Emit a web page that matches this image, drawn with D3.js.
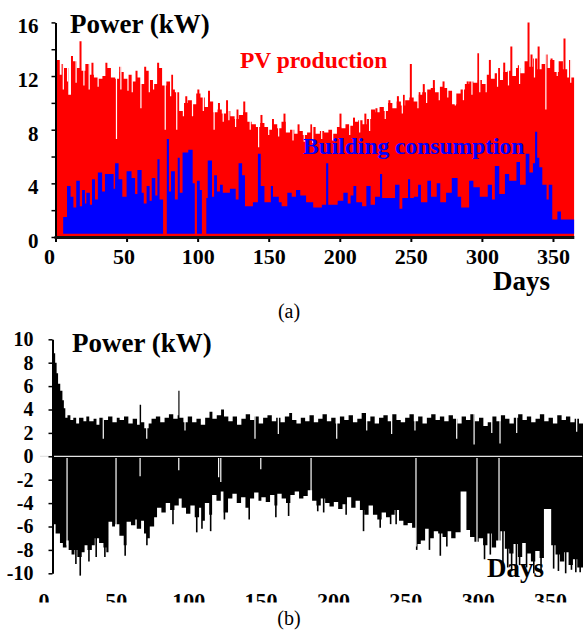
<!DOCTYPE html>
<html lang="en">
<head>
<meta charset="UTF-8">
<title>PV production, building consumption and net power</title>
<script src="https://d3js.org/d3.v7.min.js"></script>
<style>
  body { margin: 0; background: #fff; }
  svg { display: block; }
  svg text { font-family: "Liberation Serif", "Times New Roman", serif; }
</style>
</head>
<body>
<svg id="chart" width="587" height="631"></svg>
<script>
// ---------- (a) PV production / building consumption, kW ----------
// PV daily peak level, read every 3 days starting at day 0
const pvStep = 3;
const pvLevel = [
  13.2, 12.1, 12.6, 10.6, 13.1, 12.6, 12.4, 12.9, 12.1, 11.9,
  11.8, 12.0, 12.6, 11.9, 11.8, 12.3, 11.8, 12.1, 11.6, 11.9,
  11.4, 12.4, 11.7, 11.4, 12.6, 11.3, 11.6, 11.0, 10.8, 9.4,
  10.0, 10.2, 9.9, 10.7, 10.4, 9.7, 10.1, 9.3, 9.5, 9.2,
  9.4, 9.0, 8.8, 9.1, 9.3, 8.6, 8.4, 8.2, 8.5, 8.2,
  8.0, 8.4, 8.1, 8.6, 7.8, 8.0, 7.7, 7.9, 7.6, 7.8,
  8.2, 7.7, 7.9, 7.8, 8.0, 7.7, 8.2, 8.1, 8.4, 8.3,
  8.6, 8.7, 8.4, 8.8, 9.5, 9.3, 9.7, 9.4, 10.0, 9.6,
  10.1, 9.8, 10.2, 10.4, 10.1, 10.6, 10.8, 11.0, 11.1, 10.8,
  11.2, 11.1, 10.9, 9.9, 10.7, 11.0, 11.4, 11.6, 11.5, 11.7,
  11.4, 12.1, 11.8, 12.2, 11.7, 12.3, 12.4, 12.0, 12.6, 12.2,
  13.1, 12.7, 13.3, 12.5, 12.9, 12.6, 13.2, 12.3, 13.1, 12.5,
  11.9
];
// single sunny days standing above the level [day, kW]
const pvPeaks = [
  [0.3, 13.6], [5, 12.9], [11.6, 13.5], [17.6, 14.6], [26, 13.0],
  [35.8, 13.0], [45.5, 12.7], [57, 12.4], [63.1, 12.7], [72.2, 13.0],
  [82, 12.1], [92, 10.5], [100.5, 11.0], [108, 10.9], [115, 10.0],
  [120.7, 10.2], [128, 9.5], [132.8, 10.1], [144.9, 9.1], [153, 8.8],
  [161.1, 9.2], [171, 8.4], [180, 8.4], [200.5, 9.2], [210, 8.9],
  [218, 9.2], [225.8, 9.6], [234.9, 10.2], [240.9, 10.5], [245, 10.6],
  [250, 12.9], [256, 10.8], [259.1, 11.4], [266.2, 11.7], [273, 11.6],
  [290, 11.6], [297.5, 13.7], [305.6, 13.2], [312, 12.6], [315.7, 13.0],
  [320.7, 14.2], [326, 12.8], [332.8, 16.0], [334.9, 13.6], [339.9, 14.2],
  [345.5, 13.6], [349, 13.3], [358.1, 14.8], [362, 13.2]
];
// cloudy days dropping below the level [day, kW]
const pvDips = [
  [5.5, 11.0], [8.5, 11.6], [14.5, 11.5], [20, 11.3], [23.7, 11.0],
  [30, 11.2], [42.9, 7.3], [46, 11.0], [51, 10.9], [54, 10.8],
  [60.1, 9.6], [66, 10.8], [69, 11.0], [77.2, 8.0], [81, 10.5],
  [85.3, 8.0], [90, 9.0], [96.4, 9.0], [104, 9.4], [111.6, 8.0],
  [118, 8.6], [122, 8.7], [126.7, 8.2], [137, 8.0], [142.9, 6.7],
  [150, 7.6], [157, 7.5], [167.1, 7.2], [175, 7.1], [181, 7.0],
  [187.3, 7.3], [195, 7.2], [207, 7.6], [214, 7.8], [221, 7.9],
  [232, 8.8], [244, 9.2], [255, 9.6], [261.1, 10.0], [270, 10.2],
  [276, 10.4], [281.3, 9.8], [287, 10.2], [293, 10.6], [298.5, 10.8],
  [303, 10.8], [311, 11.2], [318.7, 11.3], [326.5, 11.4], [337, 11.9],
  [345, 9.5], [353, 12.0], [362.5, 11.5]
];
// building consumption peak, step values starting at each day
const consDays = [
  0, 5.4, 8.1, 10.6, 12.6, 14.6, 17.1, 18.7, 20.7, 21.7,
  24.2, 25.7, 27.8, 29.8, 32.8, 34.8, 40.9, 41.9, 44.4, 47,
  50, 53.5, 56, 57.6, 60.6, 62.1, 64.1, 66.2, 67.7, 70.2,
  71.7, 73.2, 75.7, 78.3, 79.8, 81.3, 84, 86, 87.4, 89.4,
  93.4, 96.5, 98, 99.5, 101.5, 103, 106.1, 107.1, 110.1, 111.6,
  113.6, 115.7, 117.7, 122.7, 126.8, 128.8, 131.3, 133.3, 138.9, 142.4,
  144.4, 147, 151.5, 153, 157.1, 159.1, 163.1, 166.2, 169.2, 172.2,
  176.3, 181.3, 187.4, 190.4, 191.9, 198.5, 202.5, 205.6, 207.6, 209.6,
  211.6, 215.7, 218.7, 221.7, 224.8, 228.3, 229.8, 238.9, 242, 244,
  248, 249.5, 252.1, 255.1, 257.1, 261.6, 264.2, 268.2, 270.7, 274.8,
  278.8, 282.9, 285.4, 291, 294, 298.5, 304.1, 307.1, 309.1, 312.2,
  316.2, 319.2, 324.3, 326.8, 330.8, 333.4, 335.9, 337.4, 338.9, 340.4,
  342.5, 345.5, 347, 349.5, 353.1, 355.6
];
const consKW = [
  0, 1.5, 3.8, 3.0, 2.2, 4.2, 2.3, 3.5, 2.5, 3.3,
  2.4, 4.3, 2.8, 4.8, 3.4, 4.7, 3.6, 5.5, 4.3, 3.0,
  4.9, 4.4, 3.2, 5.0, 3.3, 2.5, 3.8, 2.7, 4.4, 3.1,
  5.8, 2.8, 0, 7.3, 3.4, 4.9, 2.8, 5.9, 3.3, 6.3,
  6.5, 4.0, 0, 4.2, 3.5, 0, 2.9, 5.7, 3.0, 4.6,
  3.4, 3.9, 3.3, 3.6, 2.8, 5.5, 4.6, 2.3, 2.6, 6.2,
  3.8, 2.6, 3.8, 3.0, 2.6, 2.3, 3.3, 3.0, 3.5, 3.1,
  2.6, 2.2, 2.4, 5.5, 2.4, 2.7, 3.3, 2.5, 3.1, 3.8,
  2.6, 2.3, 3.8, 2.4, 3.0, 4.7, 2.9, 3.9, 2.1, 2.9,
  4.3, 2.9, 3.0, 3.9, 2.6, 4.2, 3.0, 4.0, 2.6, 3.3,
  4.4, 3.0, 2.2, 4.2, 3.7, 3.0, 3.9, 2.8, 5.3, 3.2,
  4.7, 4.2, 5.6, 3.9, 6.2, 4.8, 5.5, 7.85, 5.9, 5.2,
  3.9, 2.8, 3.9, 1.3, 1.9, 1.3
];
const consNight = 0.25;

// ---------- (b) net power, kW ----------
const netHighDays = [
  0, 1.5, 2.5, 3.5, 5, 6.5, 7.5, 8.5, 10, 12,
  14, 16, 18, 21, 23, 25, 28, 30, 32, 35,
  38, 41, 44, 46, 49, 52, 55, 58, 59.8, 60.8,
  63, 66, 68, 71, 74, 77, 80, 83, 86, 86.5,
  87.3, 90, 93, 96, 99, 102, 105, 108, 110, 113,
  116, 118, 121, 124, 127, 130, 133, 136, 139, 142,
  145, 148, 151, 154, 157, 160, 163, 165, 168, 171,
  174, 177, 180, 183, 186, 189, 192, 195, 198, 201,
  204, 207, 210, 213, 216, 219, 222, 225, 228, 231,
  234, 237, 240, 243, 246, 249, 252, 255, 258, 261,
  264, 267, 270, 273, 276, 279, 282, 285, 288, 291,
  294, 297, 300, 303, 306, 309, 312, 315, 318, 321,
  324, 327, 330, 333, 336, 339, 342, 345, 348, 351,
  354, 357, 360, 363
];
const netHighKW = [
  8.8, 8.0, 7.1, 6.2, 5.6, 4.8, 4.1, 3.3, 3.5, 3.1,
  3.3, 2.8, 3.3, 3.0, 3.4, 3.0, 3.2, 2.7, 3.3, 3.1,
  3.4, 2.9, 3.3, 3.1, 3.4, 2.8, 3.2, 2.7, 4.4, 2.9,
  2.4, 2.8, 3.2, 3.4, 2.9, 3.3, 3.6, 3.2, 3.5, 5.6,
  3.3, 2.9, 3.4, 2.9, 3.2, 2.7, 3.3, 3.8, 3.2, 3.5,
  4.0, 3.4, 3.0, 3.4, 2.7, 3.2, 3.6, 3.1, 3.4, 2.8,
  3.3, 3.5, 3.0, 3.3, 2.9, 3.4, 3.7, 3.1, 2.8, 3.3,
  3.0, 3.5, 2.9, 3.2, 3.6, 3.0, 3.3, 2.8, 3.4, 3.1,
  3.5, 2.9, 3.2, 3.7, 3.0, 3.4, 2.8, 3.3, 3.5, 3.0,
  3.6, 3.1, 2.9, 3.3, 3.6, 3.0, 3.4, 2.8, 3.3, 3.6,
  3.1, 3.4, 3.0, 3.5, 3.2, 2.8, 3.4, 3.1, 3.6, 3.0,
  3.3, 2.6, 2.9, 3.4, 3.0, 3.5, 3.2, 2.8, 3.3, 3.6,
  3.1, 3.4, 2.9, 3.2, 3.6, 3.0, 3.3, 2.8, 3.5, 3.1,
  3.4, 2.9, 3.2, 2.8
];
const netLowDays = [
  0, 1.8, 4.8, 6.8, 9.3, 10.8, 12.8, 14.8, 16.8, 19.8,
  21.8, 23.8, 26.8, 28.8, 31.8, 34.8, 36.8, 38.3, 40.8, 42.8,
  45.8, 48.8, 50.8, 53.8, 56.8, 57.8, 60.8, 62.8, 64.8, 66.8,
  69.8, 71.8, 74.8, 77.8, 80.8, 83.8, 86.8, 88.8, 91.8, 94.8,
  97.8, 100.8, 102.8, 104.8, 107.8, 109.8, 112.8, 115.8, 117.8, 120.8,
  123.8, 126.8, 129.8, 132.8, 135.8, 138.8, 141.8, 143.8, 146.8, 149.8,
  152.8, 154.8, 157.8, 160.8, 163.8, 166.8, 169.8, 172.8, 175.8, 178.8,
  181.8, 184.8, 187.8, 190.8, 193.8, 196.8, 199.8, 202.8, 205.8, 208.8,
  211.8, 214.8, 217.8, 220.8, 223.8, 226.8, 229.8, 232.8, 235.8, 238.8,
  241.8, 244.8, 247.8, 250.8, 253.8, 256.8, 259.8, 262.8, 265.8, 268.8,
  271.8, 274.8, 277.8, 281.3, 285.3, 287.8, 290.8, 293.8, 296.8, 299.8,
  302.8, 305.8, 308.8, 311.8, 314.8, 317.8, 320.8, 323.8, 326.8, 329.8,
  332.8, 335.8, 338.8, 343.8, 346.8, 349.8, 352.8, 355.8, 358.8, 361.8
];
const netLowKW = [
  -5.8, -6.6, -7.4, -7.8, -7.2, -8.0, -8.4, -8.0, -8.6, -8.2,
  -7.6, -8.0, -7.6, -7.0, -7.4, -7.8, -8.2, -5.6, -6.0, -5.8,
  -6.8, -7.6, -5.6, -5.9, -5.4, -6.2, -5.5, -6.6, -7.0, -6.0,
  -5.2, -4.4, -4.8, -4.0, -4.6, -4.2, -3.6, -4.4, -4.9, -4.2,
  -5.2, -4.4, -5.5, -4.0, -5.0, -3.3, -3.8, -3.0, -4.8, -3.6,
  -3.2, -4.0, -3.5, -4.4, -3.6, -3.1, -3.8, -3.5, -3.9, -3.3,
  -4.2, -3.2, -3.6, -4.0, -3.3, -3.0, -3.6, -3.4, -2.9, -3.8,
  -4.2, -3.6, -4.0, -4.3, -3.9, -4.5, -4.1, -3.5, -4.4, -3.8,
  -4.6, -5.0, -4.2, -5.0, -5.4, -4.8, -5.2, -5.0, -4.6, -5.5,
  -5.9, -5.7, -6.1, -7.5, -7.2, -6.2, -7.0, -6.4, -6.6, -6.9,
  -6.4, -7.0, -6.5, -3.0, -6.3, -6.9, -7.3, -7.0, -7.6, -6.6,
  -7.8, -7.2, -6.4, -7.9, -8.3, -7.5, -8.6, -7.4, -8.3, -9.0,
  -8.1, -8.7, -4.5, -7.6, -8.4, -9.0, -8.2, -9.3, -8.8, -9.5
];
// deeper single days [day, kW]
const netSpikes = [
  [15.8, -9.2], [18.8, -10.2], [24.8, -9.0], [29.8, -8.6], [35.8, -8.6],
  [49.8, -8.5], [64.8, -7.6], [82.8, -5.8], [99.2, -6.5], [102.8, -6.2],
  [108.8, -6.4], [118.3, -5.4], [135.4, -5.4], [153.8, -5.2], [162.6, -5.1],
  [182.7, -4.7], [186.8, -4.8], [202.3, -5.0], [214.3, -6.4], [225.8, -6.1],
  [233, -5.8], [236.8, -5.8], [251, -8.0], [259.8, -8.0], [267.3, -8.5],
  [271.8, -7.7], [297.8, -8.8], [301.8, -8.4], [310.5, -9.2], [313.8, -9.5],
  [316.5, -9.8], [319.8, -9.7], [322, -9.3], [326.8, -9.5], [331.8, -10.0],
  [336.8, -10.0], [345.5, -9.6], [348.8, -9.8], [353.8, -10.0], [357.8, -9.7],
  [360.8, -9.9], [363.8, -9.9]
];
// days with little PV: negative part missing from 0 down to kW
const netGapsNeg = [
  [9.7, -7.6], [43.5, -6.9], [60.1, -1.7], [86.8, -1.2], [114.3, -1.8],
  [115.8, -2.2], [143.4, -1.1], [178.1, -3.0], [250.5, -7.7], [292.6, -7.4],
  [307.8, -7.5]
];
// days with low night load: positive part only up to kW
const netGapsPos = [
  [34.7, 1.5], [64.7, 1.5], [91.1, 2.2], [139.4, 1.5], [155.5, 1.9],
  [195.8, 1.5], [216.5, 2.2], [233.7, 1.9], [249.8, 2.2], [278.6, 1.5],
  [290.6, 1.0], [302.8, 2.0], [308.5, 1.1], [320, 2.0], [361.4, 2.1]
];

const dayTicks = [0, 50, 100, 150, 200, 250, 300, 350];
const topTicks = [0, 2, 4, 6, 8, 10, 12, 14, 16];
const topLabelled = [0, 4, 8, 12, 16];
const bottomTicks = [-10, -8, -6, -4, -2, 0, 2, 4, 6, 8, 10];

const serif = '"Liberation Serif", "Times New Roman", serif';
const svg = d3.select("#chart");

function steps(days, vals, end) {
  const pts = days.map((d, i) => ({d: d, v: vals[i]}));
  pts.push({d: end, v: vals[vals.length - 1]});
  return pts;
}

// ================= panel (a) =================
const xTop = d3.scaleLinear().domain([0, 365]).range([55.5, 574.3]);
const yTop = d3.scaleLinear().domain([0, 16]).range([237, 22.4]);

svg.append("clipPath").attr("id", "clipTop")
  .append("rect").attr("x", xTop(0)).attr("y", 0)
  .attr("width", xTop(365) - xTop(0)).attr("height", yTop(0));

const gTop = svg.append("g").attr("clip-path", "url(#clipTop)");

const pvData = steps(pvLevel.map((v, i) => i * pvStep), pvLevel, 365);
gTop.append("path")
  .datum(pvData)
  .attr("fill", "#ff0000")
  .attr("d", d3.area().curve(d3.curveStepAfter)
    .x(d => xTop(d.d)).y0(yTop(0)).y1(d => yTop(d.v)));

gTop.selectAll(".pvPeak").data(pvPeaks).join("line")
  .attr("x1", d => xTop(d[0])).attr("x2", d => xTop(d[0]))
  .attr("y1", yTop(0)).attr("y2", d => yTop(d[1]))
  .attr("stroke", "#ff0000").attr("stroke-width", 2);

gTop.selectAll(".pvDip").data(pvDips).join("line")
  .attr("x1", d => xTop(d[0])).attr("x2", d => xTop(d[0]))
  .attr("y1", d => yTop(d[1])).attr("y2", yTop(16.5))
  .attr("stroke", "#fff").attr("stroke-width", 1.2);

const consData = steps(consDays, consKW, 365);
gTop.append("path")
  .datum(consData)
  .attr("fill", "#0000ff")
  .attr("d", d3.area().curve(d3.curveStepAfter)
    .x(d => xTop(d.d))
    .y0(d => d.v > 0 ? yTop(consNight) : yTop(0))
    .y1(d => d.v > 0 ? yTop(d.v) : yTop(0)));

// axes (a)
const yAxisTop = svg.append("g")
  .attr("transform", `translate(${xTop(0)},0)`)
  .call(d3.axisLeft(yTop).tickValues(topTicks).tickSize(4).tickSizeOuter(0).tickPadding(13)
    .tickFormat(d => topLabelled.includes(d) ? d : ""));
yAxisTop.select(".domain").attr("stroke-width", 2);
yAxisTop.selectAll("line").attr("stroke-width", 1.5);
yAxisTop.selectAll("text")
  .attr("font-family", serif).attr("font-size", 21).attr("font-weight", "bold")
  .attr("dy", "0.5em").attr("fill", "#000");

svg.append("line")
  .attr("x1", xTop(0) - 1).attr("x2", xTop(365))
  .attr("y1", yTop(0) + 0.5).attr("y2", yTop(0) + 0.5)
  .attr("stroke", "#111").attr("stroke-width", 3);

const xAxisTop = svg.append("g")
  .attr("transform", `translate(0,${yTop(0) + 2})`)
  .call(d3.axisBottom(xTop).tickValues(dayTicks).tickSize(3).tickSizeOuter(0).tickPadding(6));
xAxisTop.select(".domain").remove();
xAxisTop.selectAll("line").attr("stroke-width", 2);
xAxisTop.selectAll("text")
  .attr("font-family", serif).attr("font-size", 22).attr("font-weight", "bold")
  .attr("fill", "#000")
  .attr("dx", d => d === 0 ? -6.5 : (d === 50 ? -3 : 0));

svg.append("text").attr("x", 70).attr("y", 33)
  .attr("font-size", 27).attr("font-weight", "bold").text("Power (kW)");
svg.append("text").attr("x", 240).attr("y", 68)
  .attr("font-size", 23.5).attr("font-weight", "bold").attr("fill", "#ff0000").text("PV production");
svg.append("text").attr("x", 303).attr("y", 154)
  .attr("font-size", 23.5).attr("font-weight", "bold").attr("fill", "#0000ff").text("Building consumption");
svg.append("text").attr("x", 493).attr("y", 290)
  .attr("font-size", 27).attr("font-weight", "bold").text("Days");
svg.append("text").attr("x", 289).attr("y", 318).attr("text-anchor", "middle")
  .attr("font-size", 20).text("(a)");

// ================= panel (b) =================
const xBot = d3.scaleLinear().domain([0, 365]).range([53, 581.9]);
const xBotLabel = d3.scaleLinear().domain([0, 350]).range([43.5, 550]);
const yBot = d3.scaleLinear().domain([-10, 10]).range([573.3, 339.3]);

svg.append("clipPath").attr("id", "clipBot")
  .append("rect").attr("x", xBot(0)).attr("y", 330)
  .attr("width", 583 - xBot(0)).attr("height", 250);

const gBot = svg.append("g").attr("clip-path", "url(#clipBot)");

const stepArea = d3.area().curve(d3.curveStepAfter)
  .x(d => xBot(d.d)).y0(yBot(0)).y1(d => yBot(d.v));

gBot.append("path").datum(steps(netHighDays, netHighKW, 372))
  .attr("fill", "#000").attr("d", stepArea);
gBot.append("path").datum(steps(netLowDays, netLowKW, 372))
  .attr("fill", "#000").attr("d", stepArea);

gBot.selectAll(".spike").data(netSpikes).join("line")
  .attr("x1", d => xBot(d[0])).attr("x2", d => xBot(d[0]))
  .attr("y1", yBot(0)).attr("y2", d => yBot(d[1]))
  .attr("stroke", "#000").attr("stroke-width", 1.6);

gBot.selectAll(".gapNeg").data(netGapsNeg).join("line")
  .attr("x1", d => xBot(d[0])).attr("x2", d => xBot(d[0]))
  .attr("y1", yBot(-0.15)).attr("y2", d => yBot(d[1]))
  .attr("stroke", "#fff").attr("stroke-width", 1.2);

gBot.selectAll(".gapPos").data(netGapsPos).join("line")
  .attr("x1", d => xBot(d[0])).attr("x2", d => xBot(d[0]))
  .attr("y1", d => yBot(d[1])).attr("y2", yBot(10.5))
  .attr("stroke", "#fff").attr("stroke-width", 1.2);

svg.append("line")
  .attr("x1", 40).attr("x2", 582)
  .attr("y1", yBot(0)).attr("y2", yBot(0))
  .attr("stroke", "#e4e4e4").attr("stroke-width", 1.2);

const yAxisBot = svg.append("g")
  .attr("transform", `translate(${xBot(0) - 0.5},0)`)
  .call(d3.axisLeft(yBot).tickValues(bottomTicks).tickSize(4).tickSizeOuter(0).tickPadding(15)
    .tickFormat(d => String(d)));
yAxisBot.select(".domain").attr("stroke-width", 2);
yAxisBot.selectAll("line").attr("stroke-width", 1.5);
yAxisBot.selectAll("text")
  .attr("font-family", serif).attr("font-size", 20).attr("font-weight", "bold")
  .attr("fill", "#000");

const xAxisBot = svg.append("g")
  .attr("transform", "translate(0,588)")
  .call(d3.axisBottom(xBotLabel).tickValues(dayTicks).tickSize(0).tickPadding(4));
xAxisBot.select(".domain").remove();
xAxisBot.selectAll("text")
  .attr("font-family", serif).attr("font-size", 22).attr("font-weight", "bold")
  .attr("fill", "#000");
// the lower part of the day labels is cut off in the figure
svg.append("rect").attr("x", 0).attr("y", 602.5).attr("width", 587).attr("height", 6.5)
  .attr("fill", "#fff");

svg.append("text").attr("x", 72).attr("y", 351.5)
  .attr("font-size", 27).attr("font-weight", "bold").text("Power (kW)");
svg.append("text").attr("x", 487).attr("y", 577)
  .attr("font-size", 27).attr("font-weight", "bold").text("Days");
svg.append("text").attr("x", 289).attr("y", 625).attr("text-anchor", "middle")
  .attr("font-size", 20).text("(b)");
</script>
</body>
</html>
